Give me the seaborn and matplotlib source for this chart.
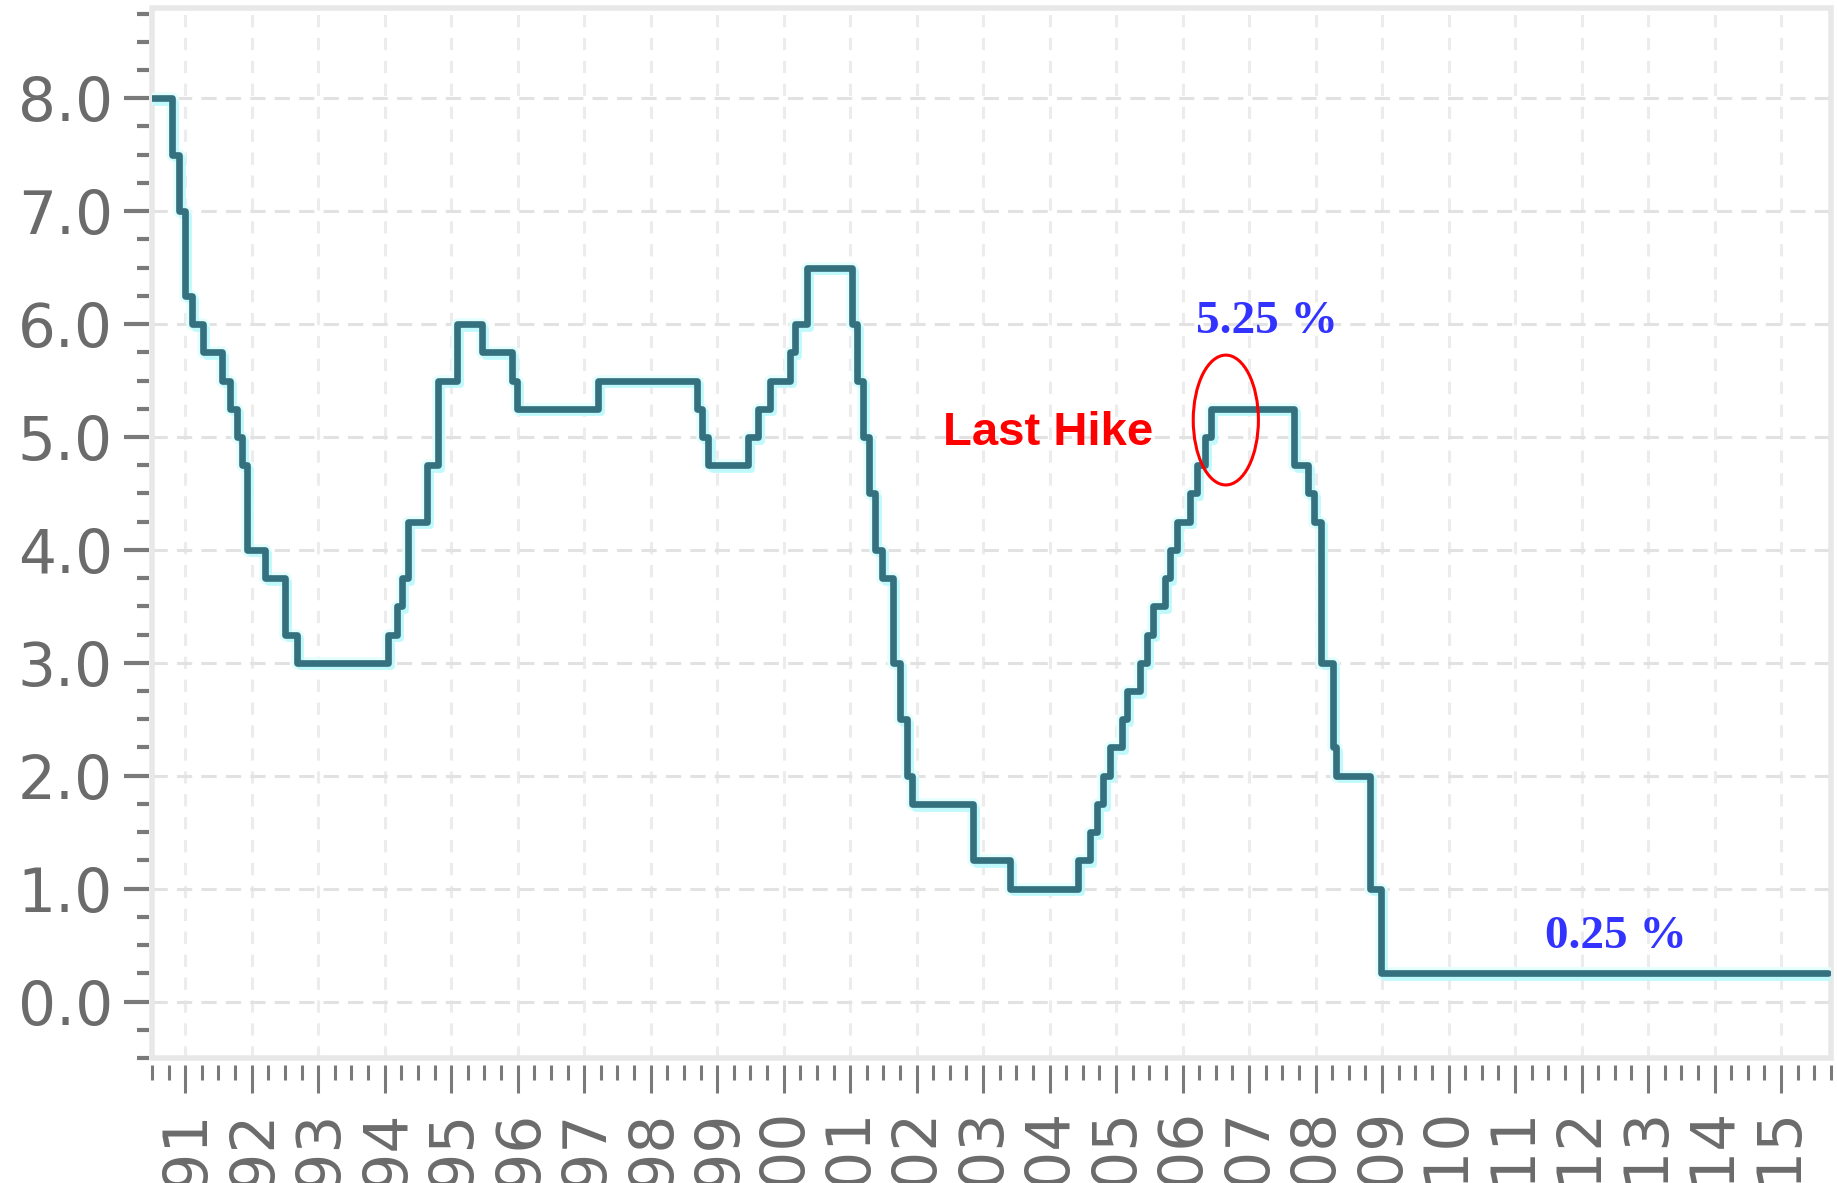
import matplotlib
matplotlib.use("Agg")
from matplotlib import pyplot as plt
from matplotlib import patheffects as pe
from matplotlib.patches import Ellipse, Rectangle
from matplotlib.ticker import MultipleLocator, FormatStrFormatter
import pandas as pd
import seaborn as sns

# 每次利率變動的時間點(小數年份)與新的利率(%)
change_years = [
    1990.50, 1990.80, 1990.90, 1991.00, 1991.10, 1991.27, 1991.55, 1991.68,
    1991.78, 1991.86, 1991.93, 1992.20, 1992.50, 1992.68, 1994.05, 1994.19,
    1994.26, 1994.35, 1994.64, 1994.80, 1995.09, 1995.47, 1995.92, 1995.99,
    1997.21, 1998.70, 1998.77, 1998.87, 1999.46, 1999.61, 1999.80, 2000.10,
    2000.17, 2000.35, 2001.03, 2001.10, 2001.20, 2001.28, 2001.37, 2001.48,
    2001.65, 2001.75, 2001.85, 2001.93, 2002.85, 2003.41, 2004.43, 2004.61,
    2004.71, 2004.81, 2004.91, 2005.09, 2005.16, 2005.36, 2005.46, 2005.56,
    2005.74, 2005.81, 2005.92, 2006.11, 2006.22, 2006.33, 2006.43, 2007.68,
    2007.88, 2007.98, 2008.08, 2008.26, 2008.31, 2008.82, 2008.99, 2015.70,
]
rates = [
    8.00, 7.50, 7.00, 6.25, 6.00, 5.75, 5.50, 5.25,
    5.00, 4.75, 4.00, 3.75, 3.25, 3.00, 3.25, 3.50,
    3.75, 4.25, 4.75, 5.50, 6.00, 5.75, 5.50, 5.25,
    5.50, 5.25, 5.00, 4.75, 5.00, 5.25, 5.50, 5.75,
    6.00, 6.50, 6.00, 5.50, 5.00, 4.50, 4.00, 3.75,
    3.00, 2.50, 2.00, 1.75, 1.25, 1.00, 1.25, 1.50,
    1.75, 2.00, 2.25, 2.50, 2.75, 3.00, 3.25, 3.50,
    3.75, 4.00, 4.25, 4.50, 4.75, 5.00, 5.25, 4.75,
    4.50, 4.25, 3.00, 2.25, 2.00, 1.00, 0.25, 0.25,
]

year_ticks = list(range(1991, 2016))
year_labels = [str(y) for y in year_ticks]
rate_ticks = [0, 1, 2, 3, 4, 5, 6, 7, 8]

peak_label = "5.25 %"
floor_label = "0.25 %"
hike_label = "Last Hike"


def draw_chart(df):
    fig = plt.figure(figsize=(18.37, 11.83), dpi=100)
    ax = fig.add_axes([0.0827, 0.1057, 0.9140, 0.8876])

    # 階梯線，底下加一層淡青色的光暈
    sns.lineplot(
        data=df, x="year", y="rate", ax=ax,
        drawstyle="steps-post", estimator=None,
        color="#35707f", linewidth=4.8, zorder=5,
        path_effects=[
            pe.Stroke(linewidth=9, foreground="#e4fefe"),
            pe.SimpleLineShadow(offset=(2.2, -2.6), shadow_color="#bff9fb", alpha=1.0),
            pe.Normal(),
        ],
    )

    ax.set_xlim(1990.5, 2015.75)
    ax.set_ylim(-0.5, 8.8)
    ax.set_xlabel("")
    ax.set_ylabel("")

    ax.set_xticks(year_ticks, labels=year_labels)
    ax.xaxis.set_minor_locator(MultipleLocator(0.25))
    ax.set_yticks(rate_ticks)
    ax.yaxis.set_major_formatter(FormatStrFormatter("%.1f"))
    ax.yaxis.set_minor_locator(MultipleLocator(0.25))

    # 格線: 淺灰虛線
    ax.set_axisbelow(True)
    ax.grid(True, axis="x", which="major", color="#ececec", linewidth=2.2, linestyle=(0, (4, 3.5)))
    ax.grid(True, axis="y", which="major", color="#e2e2e2", linewidth=2.2, linestyle=(0, (5, 3)))

    for side in ["top", "right", "bottom", "left"]:
        ax.spines[side].set_visible(False)
    ax.spines["bottom"].set_position(("outward", 5))
    ax.spines["left"].set_position(("outward", 2))

    # 外框
    ax.add_patch(Rectangle((0, 0), 1, 1, transform=ax.transAxes, fill=False,
                           edgecolor="#e8e8e8", linewidth=4, clip_on=False, zorder=1))

    tick_color = "#7a7a7a"
    label_color = "#6b6b6b"
    ax.tick_params(axis="y", which="major", left=True, direction="out", length=18, width=3,
                   color=tick_color, labelsize=43, labelcolor=label_color, pad=8)
    ax.tick_params(axis="y", which="minor", left=True, direction="out", length=9, width=3,
                   color=tick_color)
    ax.tick_params(axis="x", which="major", bottom=True, direction="out", length=20, width=2.2,
                   color=tick_color, labelsize=43, labelcolor=label_color, pad=11,
                   labelrotation=90)
    ax.tick_params(axis="x", which="minor", bottom=True, direction="out", length=11, width=2.2,
                   color=tick_color)

    # 標註
    ax.text(2007.27, 5.92, peak_label, color="#3333ff", fontsize=34, fontweight="bold",
            family="Liberation Serif", ha="center", va="baseline", zorder=6)
    ax.text(2012.52, 0.47, floor_label, color="#3333ff", fontsize=34, fontweight="bold",
            family="Liberation Serif", ha="center", va="baseline", zorder=6)
    ax.text(2003.98, 4.93, hike_label, color="red", fontsize=34, fontweight="bold",
            family="Liberation Sans", ha="center", va="baseline", zorder=6)
    ax.add_patch(Ellipse((2006.65, 5.15), width=0.98, height=1.15, fill=False,
                         edgecolor="red", linewidth=2.2, zorder=7))

    fig.savefig("out.png", dpi=100)


def main():
    sns.set_theme(style="white")
    plt.rcParams["font.family"] = ["DejaVu Sans"]
    df = pd.DataFrame({"year": change_years, "rate": rates})
    draw_chart(df)


if __name__ == "__main__":
    main()
